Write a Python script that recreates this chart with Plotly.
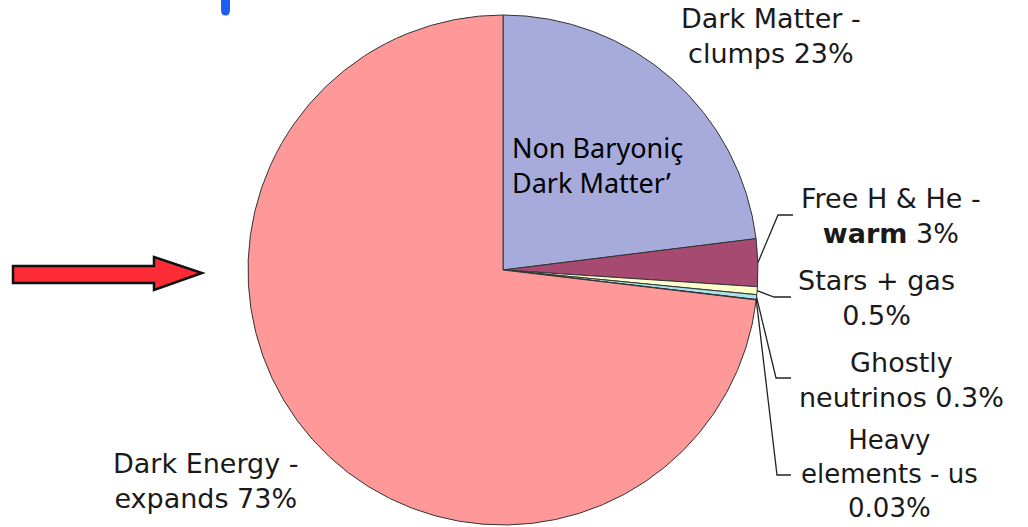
import math
import plotly.graph_objects as go

# Composition of the universe (percent of total mass-energy)
components = [
    "Dark Matter - clumps",
    "Free H & He - warm",
    "Stars + gas",
    "Ghostly neutrinos",
    "Heavy elements - us",
    "Dark Energy - expands",
]
shares = [23, 3, 0.5, 0.3, 0.03, 73]
colors = ["#A6ABDB", "#A64A72", "#FFFFCC", "#A8E2EA", "#6FB0C0", "#FF9999"]

# Label text shown beside the pie
label_text = {
    "Dark Matter - clumps": "Dark Matter -<br>clumps 23%",
    "Free H & He - warm": "Free H & He -<br><b>warm</b> 3%",
    "Stars + gas": "Stars + gas<br>0.5%",
    "Ghostly neutrinos": "Ghostly<br>neutrinos 0.3%",
    "Heavy elements - us": "Heavy<br>elements - us<br>0.03%",
    "Dark Energy - expands": "Dark Energy -<br>expands 73%",
}

W, H = 1028, 527
CX, CY, R = 503, 270, 255  # pie centre and radius in pixels


def px(x):
    return x / W


def py(y):
    return 1 - y / H


fig = go.Figure(
    go.Pie(
        labels=components,
        values=shares,
        sort=False,
        direction="clockwise",
        rotation=0,
        marker=dict(colors=colors, line=dict(color="#333333", width=1)),
        textinfo="none",
        hoverinfo="label+percent",
        domain=dict(x=[px(CX - R), px(CX + R)], y=[py(CY + R), py(CY - R)]),
        showlegend=False,
    )
)

# Mid-angle of every slice, measured clockwise from 12 o'clock
total = sum(shares)
mid_angle = {}
acc = 0.0
for name, v in zip(components, shares):
    mid_angle[name] = (acc + v / 2) / total * 2 * math.pi
    acc += v


def edge_point(name):
    a = mid_angle[name]
    return CX + R * math.sin(a), CY - R * math.cos(a)


# Leader lines: slice edge -> elbow -> short horizontal run
leaders = {
    "Free H & He - warm": ((778, 215), (793, 215)),
    "Stars + gas": ((774, 297), (791, 297)),
    "Ghostly neutrinos": ((776, 378), (791, 378)),
    "Heavy elements - us": ((777, 475), (791, 475)),
}
shapes = []
for name, (elbow, end) in leaders.items():
    sx, sy = edge_point(name)
    path = "M {},{} L {},{} L {},{}".format(
        px(sx), py(sy), px(elbow[0]), py(elbow[1]), px(end[0]), py(end[1])
    )
    shapes.append(dict(type="path", xref="paper", yref="paper", path=path,
                       line=dict(color="#222222", width=1.3)))

# Red arrow pointing at the pie
arrow = [(13, 266), (154, 266), (154, 257), (202, 273), (154, 290), (154, 283), (13, 283)]
arrow_path = "M " + " L ".join("{},{}".format(px(x), py(y)) for x, y in arrow) + " Z"
shapes.append(dict(type="path", xref="paper", yref="paper", path=arrow_path,
                   fillcolor="#FF2B35", line=dict(color="#111111", width=2.5)))

# Small blue tab at the top edge
tab_path = "M {},{} L {},{} Q {},{} {},{} Q {},{} {},{} L {},{} Z".format(
    px(221), py(-2), px(221), py(10), px(221), py(15.5), px(225.5), py(15.5),
    px(230), py(15.5), px(230), py(10), px(230), py(-2))
shapes.append(dict(type="path", xref="paper", yref="paper", path=tab_path,
                   fillcolor="#1C5EF2", line=dict(width=0)))

label_pos = {
    "Dark Matter - clumps": (771, 36),
    "Free H & He - warm": (891, 216),
    "Stars + gas": (876, 298),
    "Ghostly neutrinos": (901, 380),
    "Heavy elements - us": (889, 474),
    "Dark Energy - expands": (206, 481),
}
annotations = []
for name, (x, y) in label_pos.items():
    size = 26 if name == "Heavy elements - us" else 27
    annotations.append(dict(
        x=px(x), y=py(y), xref="paper", yref="paper", xanchor="center", yanchor="middle",
        text=label_text[name], showarrow=False, align="center",
        font=dict(family="DejaVu Sans, Verdana, sans-serif", size=size, color="#1a1a1a"),
    ))

annotations.append(dict(
    x=px(510), y=py(165), xref="paper", yref="paper", xanchor="left", yanchor="middle",
    text="Non Baryoniç<br>Dark Matter’", showarrow=False, align="left",
    font=dict(family="Comic Sans MS, Noto Sans, sans-serif", size=27, color="#000000"),
))

fig.update_layout(
    width=W,
    height=H,
    margin=dict(l=0, r=0, t=0, b=0),
    paper_bgcolor="white",
    plot_bgcolor="white",
    shapes=shapes,
    annotations=annotations,
)

fig.write_html("out.html")
